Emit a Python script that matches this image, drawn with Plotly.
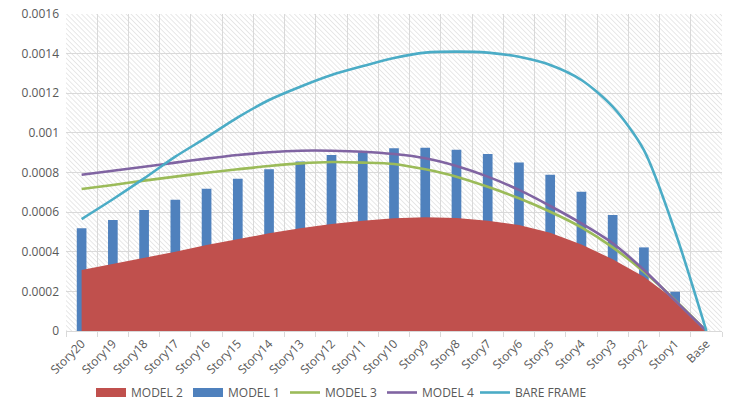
import base64
import plotly.graph_objects as go

# Storey labels, top storey first, ending at the base
stories = ["Story20", "Story19", "Story18", "Story17", "Story16", "Story15", "Story14",
           "Story13", "Story12", "Story11", "Story10", "Story9", "Story8", "Story7",
           "Story6", "Story5", "Story4", "Story3", "Story2", "Story1", "Base"]

# Drift values per storey for each model
model_1 = [0.000518, 0.000560, 0.000611, 0.000663, 0.000718, 0.000769, 0.000816,
           0.000855, 0.000888, 0.000902, 0.000922, 0.000925, 0.000915, 0.000893,
           0.000851, 0.000789, 0.000703, 0.000585, 0.000422, 0.000198, 0.0]
model_2 = [0.000308, 0.000338, 0.000367, 0.000400, 0.000434, 0.000464, 0.000493,
           0.000518, 0.000540, 0.000557, 0.000569, 0.000574, 0.000570, 0.000557,
           0.000535, 0.000496, 0.000437, 0.000362, 0.000274, 0.000156, 0.0]
model_3 = [0.000717, 0.000737, 0.000759, 0.000779, 0.000799, 0.000816, 0.000833,
           0.000846, 0.000853, 0.000850, 0.000843, 0.000816, 0.000779, 0.000728,
           0.000670, 0.000602, 0.000523, 0.000422, 0.000299, 0.000156, 0.0]
model_4 = [0.000789, 0.000809, 0.000829, 0.000850, 0.000870, 0.000888, 0.000902,
           0.000910, 0.000910, 0.000905, 0.000893, 0.000872, 0.000833, 0.000779,
           0.000712, 0.000631, 0.000543, 0.000443, 0.000308, 0.000153, 0.0]
bare_frame = [0.000565, 0.000665, 0.000770, 0.000880, 0.000977, 0.001078, 0.001166,
              0.001233, 0.001292, 0.001337, 0.001378, 0.001405, 0.001410, 0.001405,
              0.001384, 0.001343, 0.001267, 0.001132, 0.000913, 0.000501, 0.0]

y_ticks = [0, 0.0002, 0.0004, 0.0006, 0.0008, 0.001, 0.0012, 0.0014, 0.0016]

W, H = 729, 407
M_L, M_R, M_T, M_B = 66, 7, 14, 76
PW, PH = W - M_L - M_R, H - M_T - M_B

FONT = "Open Sans, Liberation Sans, sans-serif"
TXT = "#595959"
GRID = "#d9d9d9"

RED, BLUE = "#C0504D", "#4F81BD"

# Light diagonal hatch for the plot-area background
hatch_svg = (
    f'<svg xmlns="http://www.w3.org/2000/svg" width="{PW}" height="{PH}" '
    f'viewBox="0 0 {PW} {PH}" preserveAspectRatio="none">'
    '<defs><pattern id="h" width="3.5" height="3.5" patternUnits="userSpaceOnUse" '
    'patternTransform="rotate(-45)">'
    '<line x1="0" y1="0" x2="0" y2="3.5" stroke="#dcdcdc" stroke-width="1.3"/>'
    '</pattern></defs>'
    '<rect width="100%" height="100%" fill="#ffffff"/>'
    '<rect width="100%" height="100%" fill="url(#h)"/></svg>'
)
hatch_uri = "data:image/svg+xml;base64," + base64.b64encode(hatch_svg.encode()).decode()

fig = go.Figure()

# Legend swatches for the area and bar series (wide flat rectangles)
fig.add_trace(go.Scatter(x=[None], y=[None], name="MODEL 2", mode="lines",
                         line=dict(color=RED, width=9), legendgroup="m2",
                         xaxis="x2", yaxis="y2", hoverinfo="skip"))
fig.add_trace(go.Scatter(x=[None], y=[None], name="MODEL 1", mode="lines",
                         line=dict(color=BLUE, width=9), legendgroup="m1",
                         xaxis="x2", yaxis="y2", hoverinfo="skip"))

# Area and bars on the base axes
fig.add_trace(go.Scatter(
    x=stories, y=model_2, name="MODEL 2", mode="lines", fill="tozeroy",
    line=dict(width=0, color=RED), fillcolor=RED, legendgroup="m2",
    showlegend=False, xaxis="x", yaxis="y"))
fig.add_trace(go.Bar(
    x=stories, y=model_1, name="MODEL 1", marker=dict(color=BLUE, line=dict(width=0)),
    legendgroup="m1", showlegend=False, xaxis="x", yaxis="y"))

# Smoothed lines on overlaid axes so they sit above the bars
for name, vals, col, lg in [("MODEL 3", model_3, "#9BBB59", "legend"),
                            ("MODEL 4", model_4, "#8064A2", "legend"),
                            ("BARE FRAME", bare_frame, "#4BACC6", "legend2")]:
    fig.add_trace(go.Scatter(
        x=stories, y=vals, name=name, mode="lines", legend=lg,
        line=dict(color=col, width=2.6, shape="spline", smoothing=0.8),
        xaxis="x2", yaxis="y2"))

legend_common = dict(orientation="h", xref="container", xanchor="left",
                     yref="container", y=0.0, yanchor="bottom",
                     font=dict(size=12, color=TXT), itemwidth=30,
                     tracegroupgap=0, bgcolor="rgba(0,0,0,0)")

fig.update_layout(
    width=W, height=H,
    margin=dict(l=M_L, r=M_R, t=M_T, b=M_B, autoexpand=False),
    paper_bgcolor="white",
    plot_bgcolor="rgba(0,0,0,0)",
    font=dict(family=FONT, size=12, color=TXT),
    bargap=0.69,
    showlegend=True,
    legend=dict(legend_common, x=91 / W, entrywidth=52, entrywidthmode="pixels"),
    legend2=dict(legend_common, x=475 / W),
    images=[dict(source=hatch_uri, xref="paper", yref="paper", x=0, y=1,
                 sizex=1, sizey=1, xanchor="left", yanchor="top",
                 sizing="stretch", layer="below")],
    xaxis=dict(type="category", categoryorder="array", categoryarray=stories,
               tickson="boundaries", showgrid=True, gridcolor=GRID, gridwidth=1,
               ticks="outside", ticklen=5, tickcolor=GRID,
               showline=True, linecolor=GRID, linewidth=1,
               tickangle=-45, tickfont=dict(size=12, color=TXT), automargin=False,
               range=[-0.5, len(stories) - 0.5]),
    yaxis=dict(range=[0, 0.0016], tickvals=y_ticks, tickformat="~g",
               showgrid=True, gridcolor=GRID, gridwidth=1, automargin=False,
               zeroline=False, showline=False, ticks="", ticklabelstandoff=6,
               tickfont=dict(size=12, color=TXT)),
    xaxis2=dict(type="category", categoryorder="array", categoryarray=stories,
                overlaying="x", anchor="y2", visible=False,
                range=[-0.5, len(stories) - 0.5]),
    yaxis2=dict(overlaying="y", anchor="x2", range=[0, 0.0016], visible=False),
)

fig.write_html("out.html")
